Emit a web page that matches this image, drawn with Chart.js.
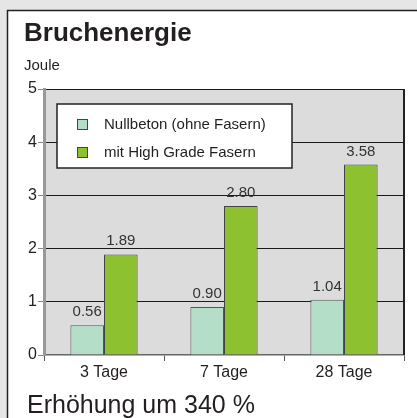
<!DOCTYPE html>
<html lang="de">
<head>
  <meta charset="UTF-8" />
  <title>Bruchenergie</title>
  <script src="https://cdn.jsdelivr.net/npm/chart.js"></script>
  <style>
    html, body { margin: 0; padding: 0; background: #e6e6e6; }
    #chart { position: absolute; left: 0; top: 0; }
  </style>
</head>
<body>
  <canvas id="chart" width="417" height="418"></canvas>

  <script>
    // data
    const categories = ['3 Tage', '7 Tage', '28 Tage'];
    const nullbeton = [0.56, 0.90, 1.04];
    const highGrade = [1.89, 2.80, 3.58];
    const seriesNames = ['Nullbeton (ohne Fasern)', 'mit High Grade Fasern'];
    const yTicks = [0, 1, 2, 3, 4, 5];

    const FONT = '"Liberation Sans", Arial, sans-serif';

    // white sheet, grey plot background, right border
    const framePlugin = {
      id: 'frame',
      beforeDraw(chart) {
        const ctx = chart.ctx;
        const a = chart.chartArea;
        ctx.save();
        ctx.fillStyle = '#e6e6e6';
        ctx.fillRect(0, 0, chart.width, chart.height);
        ctx.fillStyle = '#ffffff';
        ctx.fillRect(7, 10, chart.width - 7, chart.height - 10);
        ctx.strokeStyle = '#222';
        ctx.lineWidth = 1.5;
        ctx.beginPath();
        ctx.moveTo(7.5, chart.height);
        ctx.lineTo(7.5, 10.5);
        ctx.lineTo(chart.width, 10.5);
        ctx.stroke();
        ctx.fillStyle = '#dcdcdc';
        ctx.fillRect(a.left, a.top, a.right - a.left, a.bottom - a.top);
        ctx.restore();
      },
      afterDraw(chart) {
        const ctx = chart.ctx;
        const a = chart.chartArea;
        ctx.save();
        ctx.strokeStyle = '#222';
        ctx.lineWidth = 2;
        ctx.beginPath();
        ctx.moveTo(a.right, a.top);
        ctx.lineTo(a.right, a.bottom);
        ctx.stroke();

        // texts
        ctx.fillStyle = '#231f20';
        ctx.textBaseline = 'alphabetic';
        ctx.textAlign = 'left';
        ctx.font = 'bold 26px ' + FONT;
        ctx.fillText('Bruchenergie', 24, 41);
        ctx.font = '15px ' + FONT;
        ctx.fillText('Joule', 24, 70);
        ctx.font = '25px ' + FONT;
        ctx.fillText('Erhöhung um 340 %', 27, 413);

        // legend box inside plot
        const lx = a.left + 13, ly = a.top + 15, lw = 235, lh = 64;
        ctx.fillStyle = '#ffffff';
        ctx.fillRect(lx, ly, lw, lh);
        ctx.strokeStyle = '#222';
        ctx.lineWidth = 1.5;
        ctx.strokeRect(lx, ly, lw, lh);
        ctx.font = '15px ' + FONT;
        chart.data.datasets.forEach((ds, i) => {
          const rowY = ly + 15 + i * 28;
          ctx.fillStyle = ds.backgroundColor;
          ctx.fillRect(lx + 20, rowY, 10, 10);
          ctx.strokeStyle = '#444';
          ctx.lineWidth = 1;
          ctx.strokeRect(lx + 20.5, rowY + 0.5, 10, 10);
          ctx.fillStyle = '#231f20';
          ctx.fillText(ds.label, lx + 47, rowY + 10);
        });
        ctx.restore();
      }
    };

    // value labels above bars
    const valueLabels = {
      id: 'valueLabels',
      afterDatasetsDraw(chart) {
        const ctx = chart.ctx;
        ctx.save();
        ctx.font = '15px ' + FONT;
        ctx.fillStyle = '#333';
        ctx.textAlign = 'center';
        ctx.textBaseline = 'alphabetic';
        chart.data.datasets.forEach((ds, i) => {
          chart.getDatasetMeta(i).data.forEach((bar, j) => {
            ctx.fillText(ds.data[j].toFixed(2), bar.x, bar.y - 9);
          });
        });
        ctx.restore();
      }
    };

    new Chart(document.getElementById('chart'), {
      type: 'bar',
      data: {
        labels: categories,
        datasets: [
          {
            label: seriesNames[0],
            data: nullbeton,
            backgroundColor: '#b5dec9',
            borderColor: '#555',
            borderWidth: 1
          },
          {
            label: seriesNames[1],
            data: highGrade,
            backgroundColor: '#8ec12f',
            borderColor: '#444',
            borderWidth: 1
          }
        ]
      },
      options: {
        responsive: false,
        animation: false,
        devicePixelRatio: 1,
        categoryPercentage: 0.56,
        barPercentage: 1,
        layout: { padding: { left: 0, top: 89, right: 13, bottom: 0 } },
        plugins: {
          legend: { display: false },
          tooltip: { enabled: false }
        },
        scales: {
          x: {
            afterFit: s => { s.height = 63; },
            grid: {
              offset: true,
              drawOnChartArea: false,
              tickLength: 6,
              tickColor: '#555'
            },
            border: { color: '#666', width: 1.5 },
            ticks: {
              color: '#231f20',
              font: { family: FONT, size: 16 },
              padding: 2
            }
          },
          y: {
            min: 0,
            max: 5,
            afterFit: s => { s.width = 44; },
            afterBuildTicks: s => { s.ticks = yTicks.map(v => ({ value: v })); },
            grid: {
              color: c => (c.tick && c.tick.value === 0 ? 'rgba(0,0,0,0)' : '#1a1a1a'),
              lineWidth: 1,
              tickLength: 6,
              tickColor: '#888'
            },
            border: { color: '#999', width: 3 },
            ticks: {
              color: '#231f20',
              font: { family: FONT, size: 16 },
              padding: 1
            }
          }
        }
      },
      plugins: [framePlugin, valueLabels]
    });
  </script>
</body>
</html>
